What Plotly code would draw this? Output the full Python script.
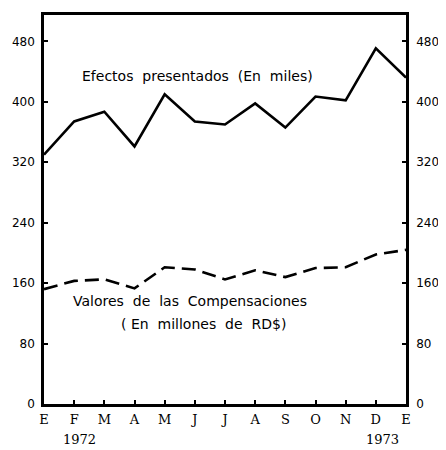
import plotly.graph_objects as go

# months from E (enero) 1972 to E 1973
meses = ["E", "F", "M", "A", "M", "J", "J", "A", "S", "O", "N", "D", "E"]
efectos = [330, 374, 387, 341, 410, 374, 370, 398, 366, 407, 402, 471, 432]
valores = [152, 163, 165, 153, 181, 178, 165, 177, 168, 180, 181, 198, 204]
y_ticks = [0, 80, 160, 240, 320, 400, 480]

x = list(range(len(meses)))
num_font = dict(family="DejaVu Sans", size=12, color="black")
serif_font = dict(family="DejaVu Serif", size=13, color="black")

fig = go.Figure()
fig.add_trace(go.Scatter(x=x, y=efectos, mode="lines",
                         line=dict(color="black", width=2.6)))
fig.add_trace(go.Scatter(x=x, y=valores, mode="lines",
                         line=dict(color="black", width=2.6, dash="14px,7px")))
# invisible trace just to draw the right axis
fig.add_trace(go.Scatter(x=x, y=valores, mode="lines", yaxis="y2",
                         line=dict(color="rgba(0,0,0,0)"), hoverinfo="skip"))

# page body has an 8px margin, so the figure is a bit smaller than the window
fig.update_layout(
    width=438, height=442,
    margin=dict(l=36, r=40, t=7, b=46, autoexpand=False),
    paper_bgcolor="white", plot_bgcolor="white",
    showlegend=False,
    xaxis=dict(range=[0, 12], tickvals=x, ticktext=meses, automargin=False,
               ticks="inside", ticklen=4, tickwidth=2, tickcolor="black",
               showline=True, linecolor="black", linewidth=2.5, mirror=True,
               showgrid=False, zeroline=False, ticklabelstandoff=2,
               tickfont=serif_font),
    yaxis=dict(range=[0, 515], tickvals=y_ticks, automargin=False,
               ticks="inside", ticklen=4, tickwidth=2, tickcolor="black",
               showline=True, linecolor="black", linewidth=2.5,
               showgrid=False, zeroline=False, ticklabelstandoff=4,
               tickfont=num_font),
    yaxis2=dict(range=[0, 515], tickvals=y_ticks, overlaying="y", side="right",
                automargin=False,
                ticks="inside", ticklen=4, tickwidth=2, tickcolor="black",
                showline=True, linecolor="black", linewidth=2.5,
                showgrid=False, zeroline=False, ticklabelstandoff=5,
                tickfont=num_font),
)

ann_font = dict(family="DejaVu Sans", size=14, color="black")
fig.add_annotation(x=5.1, y=434, xref="x", yref="y", showarrow=False,
                   text="Efectos  presentados  (En  miles)", font=ann_font)
fig.add_annotation(x=4.85, y=136, xref="x", yref="y", showarrow=False,
                   text="Valores  de  las  Compensaciones", font=ann_font)
fig.add_annotation(x=5.3, y=106, xref="x", yref="y", showarrow=False,
                   text="( En  millones  de  RD$)", font=ann_font)
fig.add_annotation(x=0.047, y=-0.092, xref="paper", yref="paper", showarrow=False,
                   yanchor="middle", text="1972", font=serif_font)
fig.add_annotation(x=0.986, y=-0.092, xref="paper", yref="paper", showarrow=False,
                   yanchor="middle", text="1973", font=serif_font)

fig.write_html("out.html")
